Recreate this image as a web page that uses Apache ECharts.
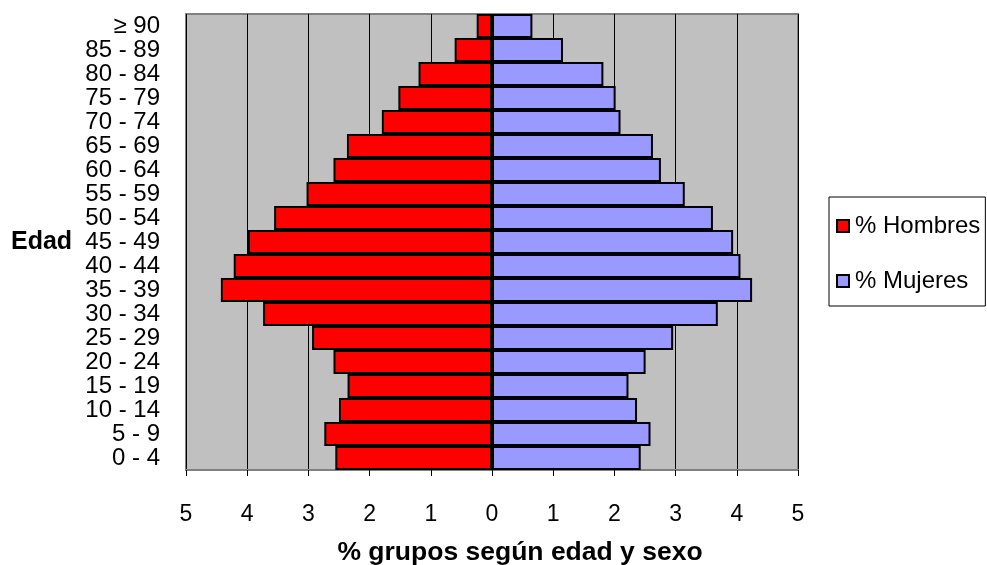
<!DOCTYPE html>
<html>
<head>
<meta charset="utf-8">
<script src="https://cdn.jsdelivr.net/npm/echarts@6/dist/echarts.min.js"></script>
<style>
  html, body { margin: 0; padding: 0; background: #fff; }
  #chart { width: 987px; height: 565px; }
</style>
</head>
<body>
<div id="chart"></div>
<script>
// Age groups, bottom to top
const ageGroups = ['0 - 4', '5 - 9', '10 - 14', '15 - 19', '20 - 24', '25 - 29', '30 - 34',
  '35 - 39', '40 - 44', '45 - 49', '50 - 54', '55 - 59', '60 - 64', '65 - 69',
  '70 - 74', '75 - 79', '80 - 84', '85 - 89', '≥ 90'];

// Share of each age group (%), men and women
const hombres = [2.56, 2.74, 2.50, 2.36, 2.59, 2.94, 3.74, 4.43, 4.22, 3.99,
  3.56, 3.03, 2.59, 2.37, 1.80, 1.53, 1.20, 0.61, 0.25];
const mujeres = [2.43, 2.59, 2.37, 2.23, 2.51, 2.96, 3.69, 4.25, 4.06, 3.94,
  3.61, 3.15, 2.76, 2.63, 2.10, 2.02, 1.82, 1.16, 0.66];

const xTicks = [-5, -4, -3, -2, -1, 0, 1, 2, 3, 4, 5];

const FONT = '"Liberation Sans", Arial, sans-serif';

const chart = echarts.init(document.getElementById('chart'), null, { renderer: 'canvas' });

chart.setOption({
  animation: false,
  backgroundColor: '#ffffff',
  textStyle: { fontFamily: FONT },
  grid: {
    left: 186, right: 189, top: 14, bottom: 95,
    show: true,
    backgroundColor: '#C0C0C0',
    borderColor: '#808080',
    borderWidth: 2
  },
  legend: {
    orient: 'vertical',
    left: 829, top: 197,
    padding: [17, 5, 13, 7],
    itemGap: 31,
    itemWidth: 12, itemHeight: 12,
    borderColor: '#000', borderWidth: 1,
    backgroundColor: '#fff',
    icon: 'rect',
    textStyle: { fontFamily: FONT, fontSize: 24, color: '#000', padding: [0, 0, 0, 1] },
    data: ['% Hombres', '% Mujeres']
  },
  xAxis: {
    type: 'value',
    min: xTicks[0], max: xTicks[xTicks.length - 1], interval: 1,
    axisLine: { show: true, onZero: false, lineStyle: { color: '#808080', width: 2 } },
    axisTick: { show: true, length: 6, lineStyle: { color: '#000', width: 1 } },
    axisLabel: {
      margin: 33, fontSize: 23, color: '#000', fontFamily: FONT,
      formatter: v => String(Math.abs(v))
    },
    splitLine: { show: true, lineStyle: { color: '#000', width: 1 } }
  },
  yAxis: {
    type: 'category',
    data: ageGroups,
    axisLine: { show: false, onZero: false },
    axisTick: { show: false },
    axisLabel: { margin: 26, fontSize: 24, lineHeight: 24, color: '#000', fontFamily: FONT, interval: 0 },
    splitLine: { show: false }
  },
  graphic: [{
    type: 'text',
    left: 11, top: 230,
    style: { text: 'Edad', font: 'bold 25px ' + FONT, fill: '#000' }
  }, {
    type: 'text',
    x: 520, y: 553,
    style: {
      text: '% grupos según edad y sexo',
      font: 'bold 26.5px ' + FONT, fill: '#000',
      textAlign: 'center', textVerticalAlign: 'middle'
    }
  }],
  series: [{
    name: '% Hombres',
    type: 'bar',
    data: hombres.map(v => -v),
    barWidth: '100%',
    barGap: '-100%',
    itemStyle: { color: '#FF0000', borderColor: '#000', borderWidth: 2 }
  }, {
    name: '% Mujeres',
    type: 'bar',
    data: mujeres,
    barWidth: '100%',
    barGap: '-100%',
    itemStyle: { color: '#9999FF', borderColor: '#000', borderWidth: 2 }
  }]
});
</script>
</body>
</html>
